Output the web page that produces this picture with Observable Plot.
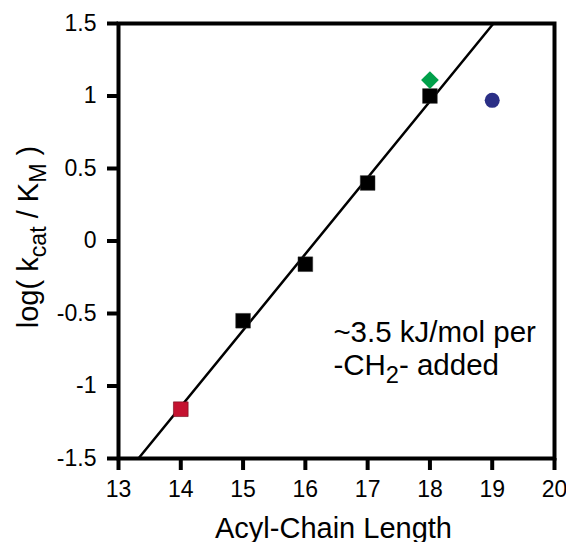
<!DOCTYPE html>
<html>
<head>
<meta charset="utf-8">
<script src="https://cdn.jsdelivr.net/npm/d3@7"></script>
<script src="https://cdn.jsdelivr.net/npm/@observablehq/plot@0.6"></script>
<style>
  html, body { margin: 0; padding: 0; background: #fff; }
  svg { overflow: visible; }
</style>
</head>
<body>
<div id="chart"></div>
<script>
// ---- data ----
const xTicks = [13, 14, 15, 16, 17, 18, 19, 20];
const yTicks = [-1.5, -1, -0.5, 0, 0.5, 1, 1.5];

const squareX = [15, 16, 17, 18];
const squareY = [-0.55, -0.16, 0.40, 1.00];

const redX = [14];
const redY = [-1.16];

const greenX = [18];
const greenY = [1.11];

const blueX = [19];
const blueY = [0.97];

const fitX = [13.32, 19.02];
const fitY = [-1.5, 1.5];

const annoText = ["~3.5 kJ/mol per", "-CH_{2}- added"];
const annoX = [16.45, 16.45];
const annoY = [-0.694, -0.921];

const xLabel = "Acyl-Chain Length";
const yLabel = "log( k_{cat} / K_{M} )";

// ---- tables ----
const pts = (xs, ys) => xs.map((x, i) => ({x, y: ys[i]}));
const squares = pts(squareX, squareY);
const red = pts(redX, redY);
const green = pts(greenX, greenY);
const blue = pts(blueX, blueY);
const fit = pts(fitX, fitY);
const anno = annoText.map((t, i) => ({t, x: annoX[i], y: annoY[i]}));

const font = "Liberation Sans, Arial, Helvetica, sans-serif";

const plot = Plot.plot({
  width: 566,
  height: 542,
  marginLeft: 118,
  marginRight: 12,
  marginTop: 23,
  marginBottom: 84,
  style: {fontFamily: font, color: "#000", background: "#fff"},
  x: {domain: [13, 20]},
  y: {domain: [-1.5, 1.5]},
  marks: [
    Plot.axisX({ticks: xTicks, tickSize: 12, tickPadding: 10, fontSize: 23, strokeWidth: 4, tickFormat: d => String(d), label: null}),
    Plot.axisY({ticks: yTicks, tickSize: 11, tickPadding: 11, fontSize: 23, strokeWidth: 4, tickFormat: d => String(d), label: null}),
    Plot.frame({strokeWidth: 4, stroke: "#000"}),
    Plot.line(fit, {x: "x", y: "y", stroke: "#000", strokeWidth: 2.5}),
    Plot.dot(squares, {x: "x", y: "y", symbol: "square", r: 8.3, fill: "#000", stroke: "#333", strokeWidth: 0.5}),
    Plot.dot(red, {x: "x", y: "y", symbol: "square", r: 8.3, fill: "#c41230", stroke: "#6e0a1a", strokeWidth: 0.6}),
    Plot.dot(green, {x: "x", y: "y", symbol: "diamond2", r: 8, fill: "#00a04a"}),
    Plot.dot(blue, {x: "x", y: "y", symbol: "circle", r: 7.5, fill: "#2b2f86"}),
    Plot.text(anno, {x: "x", y: "y", text: "t", textAnchor: "start", lineAnchor: "bottom", fontSize: 29.5, fill: "#000"}),
    Plot.text([xLabel], {text: d => d, frameAnchor: "bottom", textAnchor: "middle", dx: -3, dy: 79, lineAnchor: "bottom", fontSize: 29, fill: "#000"}),
    Plot.text([yLabel], {text: d => d, frameAnchor: "left", textAnchor: "middle", dx: -81, dy: -4, rotate: -90, lineAnchor: "bottom", fontSize: 29, fill: "#000"})
  ]
});

// subscripts: rebuild "_{...}" parts as tspans
d3.select(plot).selectAll("text").each(function() {
  const s = this.textContent;
  if (!s.includes("_{")) return;
  const fs = parseFloat(this.getAttribute("font-size") || this.parentNode.getAttribute("font-size") || 28);
  const sub = fs * 0.8;
  const shift = fs * 0.28;
  const parts = s.split(/(_\{[^}]*\})/).filter(p => p.length);
  const el = d3.select(this);
  el.text(null);
  let down = false;
  parts.forEach(p => {
    if (p.startsWith("_{")) {
      el.append("tspan").attr("font-size", sub).attr("dy", shift).text(p.slice(2, -1));
      down = true;
    } else {
      const t = el.append("tspan").text(p);
      if (down) { t.attr("dy", -shift); down = false; }
    }
  });
});

document.getElementById("chart").appendChild(plot);
</script>
</body>
</html>
